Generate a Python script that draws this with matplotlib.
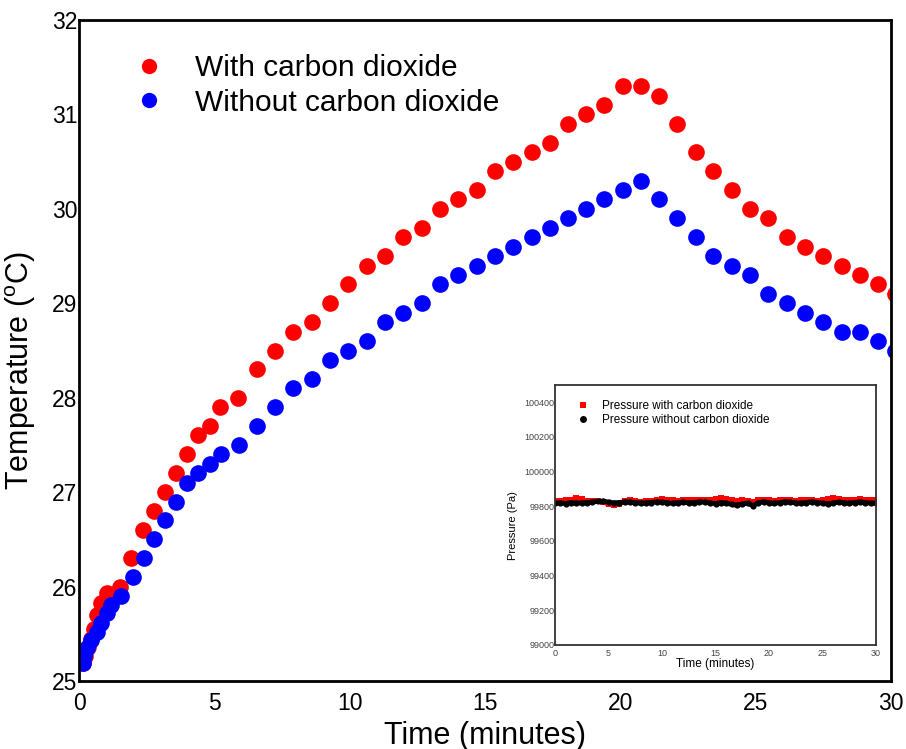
import matplotlib
matplotlib.use("Agg")
import matplotlib.pyplot as plt

plt.rcParams['font.family'] = ['Liberation Sans', 'DejaVu Sans']
plt.rcParams['mathtext.fontset'] = 'custom'
plt.rcParams['mathtext.rm'] = 'Liberation Sans'

# ---- main data: temperature (deg C) vs time (minutes) ----
t_with = [0.13, 0.22, 0.33, 0.46, 0.57, 0.68, 0.83, 1.05, 1.50, 1.92, 2.36, 2.77,
          3.18, 3.58, 3.99, 4.40, 4.84, 5.21, 5.87, 6.58, 7.24, 7.91, 8.61, 9.27,
          9.94, 10.64, 11.30, 11.97, 12.67, 13.34, 14.00, 14.70, 15.37, 16.03,
          16.73, 17.40, 18.06, 18.73, 19.39, 20.10, 20.76, 21.43, 22.09, 22.79,
          23.42, 24.12, 24.79, 25.45, 26.15, 26.82, 27.48, 28.19, 28.85, 29.52, 30.15]
temp_with = [25.19, 25.27, 25.36, 25.45, 25.55, 25.70, 25.83, 25.93, 26.0, 26.3, 26.6, 26.8,
             27.0, 27.2, 27.4, 27.6, 27.7, 27.9, 28.0, 28.3, 28.5, 28.7, 28.8, 29.0,
             29.2, 29.4, 29.5, 29.7, 29.8, 30.0, 30.1, 30.2, 30.4, 30.5,
             30.6, 30.7, 30.9, 31.0, 31.1, 31.3, 31.3, 31.2, 30.9, 30.6,
             30.4, 30.2, 30.0, 29.9, 29.7, 29.6, 29.5, 29.4, 29.3, 29.2, 29.1]

t_without = [0.13, 0.20, 0.31, 0.46, 0.65, 0.83, 1.05, 1.20, 1.57, 1.98, 2.40, 2.77,
             3.18, 3.58, 3.99, 4.40, 4.84, 5.25, 5.91, 6.58, 7.24, 7.91, 8.61, 9.27,
             9.94, 10.64, 11.30, 11.97, 12.67, 13.34, 14.00, 14.70, 15.37, 16.03,
             16.73, 17.40, 18.06, 18.73, 19.39, 20.10, 20.76, 21.43, 22.09, 22.79,
             23.42, 24.12, 24.79, 25.45, 26.15, 26.82, 27.48, 28.19, 28.85, 29.52, 30.15]
temp_without = [25.19, 25.27, 25.35, 25.43, 25.52, 25.61, 25.72, 25.80, 25.90, 26.10, 26.3, 26.5,
                26.7, 26.9, 27.1, 27.2, 27.3, 27.4, 27.5, 27.7, 27.9, 28.1, 28.2, 28.4,
                28.5, 28.6, 28.8, 28.9, 29.0, 29.2, 29.3, 29.4, 29.5, 29.6,
                29.7, 29.8, 29.9, 30.0, 30.1, 30.2, 30.3, 30.1, 29.9, 29.7,
                29.5, 29.4, 29.3, 29.1, 29.0, 28.9, 28.8, 28.7, 28.7, 28.6, 28.5]

x_ticks = [0, 5, 10, 15, 20, 25, 30]
y_ticks = [25, 26, 27, 28, 29, 30, 31, 32]

# ---- inset data: pressure (Pa) vs time (minutes) ----
t_pressure = [i * 0.5 for i in range(61)]
p_with = [99830, 99832, 99835, 99838, 99848, 99840, 99830, 99828, 99832, 99826,
          99812, 99810, 99812, 99830, 99836, 99832, 99826, 99828, 99830, 99836,
          99840, 99838, 99834, 99830, 99836, 99838, 99834, 99836, 99838, 99834,
          99840, 99848, 99842, 99836, 99832, 99836, 99830, 99825, 99834, 99838,
          99836, 99832, 99834, 99838, 99836, 99832, 99836, 99838, 99834, 99830,
          99836, 99842, 99846, 99840, 99836, 99834, 99838, 99840, 99836, 99834, 99836]
p_without = [99818, 99820, 99816, 99822, 99818, 99820, 99822, 99826, 99828, 99830,
             99824, 99820, 99822, 99826, 99824, 99822, 99818, 99820, 99822, 99826,
             99824, 99820, 99818, 99822, 99824, 99820, 99822, 99826, 99824, 99820,
             99816, 99822, 99818, 99812, 99806, 99814, 99818, 99804, 99822, 99826,
             99820, 99818, 99822, 99826, 99824, 99820, 99818, 99822, 99826, 99822,
             99818, 99814, 99820, 99824, 99822, 99818, 99822, 99826, 99822, 99818, 99820]
inset_x_ticks = [0, 5, 10, 15, 20, 25, 30]
inset_y_ticks = [99000, 99200, 99400, 99600, 99800, 100000, 100200, 100400]

fig = plt.figure(figsize=(9.06, 7.49), dpi=100)
ax = fig.add_axes([79 / 906, 1 - 681 / 749, 812 / 906, 661 / 749])

ax.plot(t_with, temp_with, 'o', color='#ff0000', markersize=12, markeredgewidth=0,
        label='With carbon dioxide')
ax.plot(t_without, temp_without, 'o', color='#0000ff', markersize=12, markeredgewidth=0,
        label='Without carbon dioxide')

ax.set_xlim(0, 30)
ax.set_ylim(25, 32)
ax.set_xticks(x_ticks)
ax.set_yticks(y_ticks)
ax.tick_params(axis='both', length=0, labelsize=16.5)
ax.tick_params(axis='x', pad=8)
ax.tick_params(axis='y', pad=1)
for s in ax.spines.values():
    s.set_linewidth(2)
ax.set_xlabel('Time (minutes)', fontsize=22, labelpad=4)
ax.set_ylabel('Temperature ($^{\\rm o}$C)', fontsize=22)
ax.yaxis.set_label_coords(-0.051, 0.47)

leg = ax.legend(loc='upper left', bbox_to_anchor=(0.069, 0.948), frameon=False,
                fontsize=21.5, handlelength=0.95, handletextpad=1.05,
                labelspacing=0.22, borderpad=0, borderaxespad=0)
for h in leg.legend_handles:
    h.set_markersize(11)

# ---- inset ----
ins = fig.add_axes([555 / 906, 1 - 645 / 749, 321 / 906, 260 / 749])
ins.plot(t_pressure, p_with, '-s', color='#ff0000', markersize=4.5, linewidth=3.5,
         markeredgewidth=0, label='Pressure with carbon dioxide')
ins.plot(t_pressure, p_without, '-o', color='#000000', markersize=4.5, linewidth=3.5,
         markeredgewidth=0, label='Pressure without carbon dioxide')
ins.set_xlim(0, 30)
ins.set_ylim(99000, 100500)
ins.set_xticks(inset_x_ticks)
ins.set_yticks(inset_y_ticks)
ins.tick_params(axis='both', length=0, labelsize=6.5, colors='#444444')
ins.tick_params(axis='x', pad=3)
ins.tick_params(axis='y', pad=0.5)
for s in ins.spines.values():
    s.set_linewidth(1.3)
    s.set_color('#333333')
ins.set_xlabel('Time (minutes)', fontsize=8.5, labelpad=0)
ins.set_ylabel('Pressure (Pa)', fontsize=8)
ins.yaxis.set_label_coords(-0.114, 0.46)
ileg = ins.legend(loc='upper left', bbox_to_anchor=(0.072, 0.943), frameon=False,
                  fontsize=8.5, handlelength=0.8, handletextpad=1.2,
                  labelspacing=0.2, borderpad=0, borderaxespad=0)
for h in ileg.legend_handles:
    h.set_linestyle('none')
    h.set_markersize(5)

fig.savefig('out.png', dpi=100)
